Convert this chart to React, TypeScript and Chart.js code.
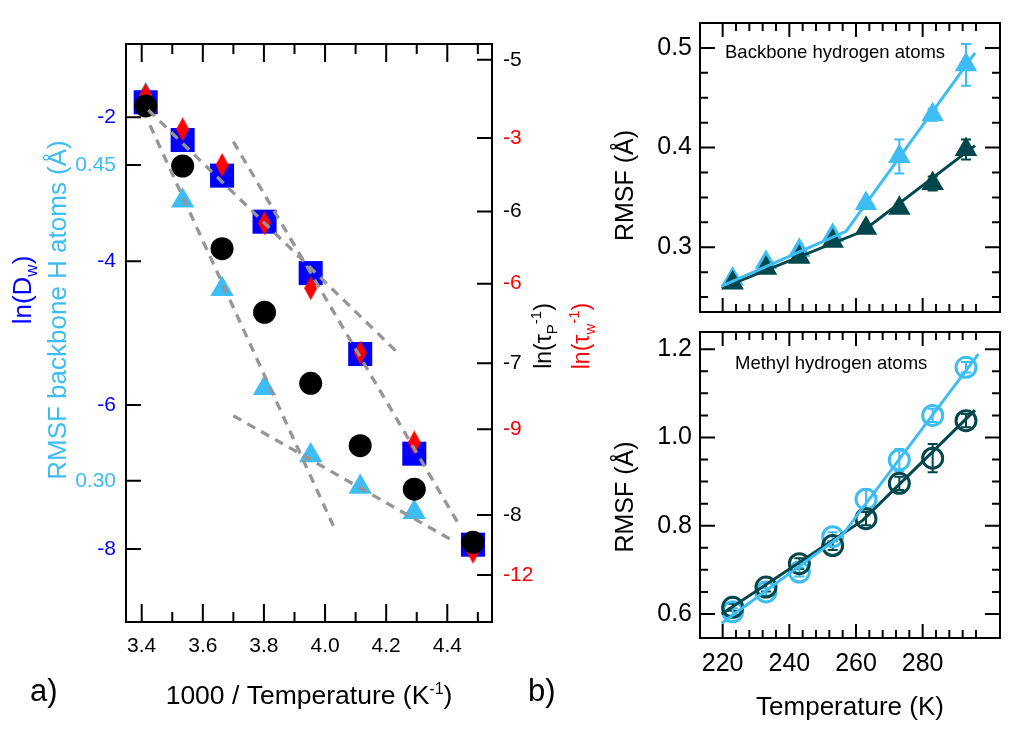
import React, { useEffect, useRef } from 'react';
import { Chart, registerables } from 'chart.js';

Chart.register(...registerables);

const FONT = "'Liberation Sans', Arial, Helvetica, sans-serif";
const BLUE = '#0000ff';
const LIGHT = '#3dbdf4';
const RED = '#ff0000';
const DARK = '#00474d';
const GRAY = '#969696';

// ---------------- Panel a : Arrhenius-type plot ----------------
const INV_T = [4.484, 4.292, 4.115, 3.953, 3.802, 3.663, 3.534, 3.413]; // 1000/T
const LN_DW = [-7.94, -6.675, -5.29, -4.165, -3.45, -2.81, -2.315, -1.79];
const LN_TAUW_INV = [-11.52, -9.27, -7.42, -6.094, -4.756, -3.556, -2.82, -2.115];
const LN_TAUP_INV = [-8.18, -7.83, -7.543, -7.132, -6.664, -6.245, -5.7, -5.304];
const RMSF_BB_A = [0.268, 0.285, 0.297, 0.312, 0.344, 0.391, 0.433, 0.483];

// dashed guide lines (data units)
const FIT_DW = [{ x: 3.4216, y: -1.897 }, { x: 4.2397, y: -5.28 }];
const FIT_RMSF_HOT = [{ x: 3.427, y: 0.4689 }, { x: 4.027, y: 0.2786 }];
const FIT_TAUW_COLD = [{ x: 3.7, y: -3.076 }, { x: 4.442, y: -11.003 }];
const FIT_RMSF_COLD = [{ x: 3.7, y: 0.3309 }, { x: 4.4197, y: 0.2714 }];

const X_TICKS_A = [3.4, 3.6, 3.8, 4.0, 4.2, 4.4];
const X_MINOR_A = [3.5, 3.7, 3.9, 4.1, 4.3, 4.5];
const DW_TICKS = [-8, -6, -4, -2];
const RMSF_A_TICKS = [0.3, 0.45];
const TAUP_TICKS = [-8, -7, -6, -5];
const TAUW_TICKS = [-12, -9, -6, -3];

const X_A_RANGE = [3.3486, 4.5463];
const DW_RANGE = [-9.015, -0.98];
const RMSF_A_RANGE = [0.2329, 0.5075];
const TAUP_RANGE = [-8.705, -4.896];
const TAUW_RANGE = [-12.968, -1.064];

// ---------------- Panel b : RMSF vs temperature ----------------
const TEMPS = [223, 233, 243, 253, 263, 273, 283, 293];
const BB_LIGHT = [0.268, 0.285, 0.297, 0.312, 0.344, 0.391, 0.433, 0.483];
const BB_LIGHT_ERR = [0.002, 0.003, 0.003, 0.003, 0.004, 0.017, 0.006, 0.021];
const BB_DARK = [0.264, 0.279, 0.29, 0.306, 0.319, 0.339, 0.364, 0.398];
const BB_DARK_ERR = [0.002, 0.002, 0.002, 0.003, 0.003, 0.004, 0.007, 0.01];
const ME_LIGHT = [0.605, 0.65, 0.695, 0.775, 0.86, 0.949, 1.05, 1.159];
const ME_LIGHT_ERR = [0.008, 0.008, 0.01, 0.01, 0.022, 0.025, 0.015, 0.012];
const ME_DARK = [0.615, 0.661, 0.714, 0.755, 0.816, 0.896, 0.953, 1.038];
const ME_DARK_ERR = [0.008, 0.01, 0.012, 0.01, 0.015, 0.015, 0.032, 0.015];

const FIT_BB_LIGHT = [{ x: 219.7, y: 0.261 }, { x: 257, y: 0.316 }, { x: 295.7, y: 0.495 }];
const FIT_BB_DARK = [{ x: 219.7, y: 0.259 }, { x: 262, y: 0.316 }, { x: 295.7, y: 0.402 }];
const FIT_ME_LIGHT = [{ x: 219.7, y: 0.579 }, { x: 256, y: 0.78 }, { x: 296.7, y: 1.189 }];
const FIT_ME_DARK = [{ x: 219.7, y: 0.6 }, { x: 262, y: 0.812 }, { x: 295.7, y: 1.062 }];

const T_TICKS = [220, 240, 260, 280];
const T_MINOR = [224, 228, 232, 236, 244, 248, 252, 256, 264, 268, 272, 276, 284, 288, 292, 296];
const T_RANGE = [213.2, 303.2];
const BB_TICKS = [0.3, 0.4, 0.5];
const BB_MINOR = [0.25, 0.275, 0.325, 0.35, 0.375, 0.425, 0.45, 0.475];
const BB_RANGE = [0.235, 0.525];
const ME_TICKS = [0.6, 0.8, 1.0, 1.2];
const ME_MINOR = [0.65, 0.7, 0.75, 0.85, 0.9, 0.95, 1.05, 1.1, 1.15];
const ME_RANGE = [0.5455, 1.239];

type Part = { t: string; size: number; dy?: number; color?: string };

function drawRich(ctx: any, parts: Part[], x: number, y: number, rot: number, align: string, color: string) {
  ctx.save();
  ctx.translate(x, y);
  ctx.rotate(rot);
  ctx.textBaseline = 'alphabetic';
  ctx.textAlign = 'left';
  let total = 0;
  const widths = parts.map((p) => {
    ctx.font = `${p.size}px ${FONT}`;
    const w = ctx.measureText(p.t).width;
    total += w;
    return w;
  });
  let cx = align === 'center' ? -total / 2 : 0;
  parts.forEach((p, i) => {
    ctx.font = `${p.size}px ${FONT}`;
    ctx.fillStyle = p.color || color;
    ctx.fillText(p.t, cx, p.dy || 0);
    cx += widths[i];
  });
  ctx.restore();
}

function makeDiamond(w: number, h: number, color: string) {
  const c = document.createElement('canvas');
  c.width = w;
  c.height = h;
  const g = c.getContext('2d')!;
  g.fillStyle = color;
  g.beginPath();
  g.moveTo(w / 2, 0);
  g.lineTo(w, h / 2);
  g.lineTo(w / 2, h);
  g.lineTo(0, h / 2);
  g.closePath();
  g.fill();
  return c;
}

const pts = (xs: number[], ys: number[]) => xs.map((x, i) => ({ x, y: ys[i] }));
const mapRange = (v: number, from: number[], to: number[]) =>
  to[0] + ((v - from[0]) / (from[1] - from[0])) * (to[1] - to[0]);

const hiddenGrid = { display: false, drawTicks: false };

const panelAPlugin = {
  id: 'panelA',
  afterDraw(chart: any) {
    const { ctx, chartArea: a, scales } = chart;
    const { x, yD, yR, yP, yW } = scales;
    ctx.save();
    ctx.strokeStyle = '#000';
    ctx.lineWidth = 2;
    ctx.strokeRect(a.left, a.top, a.right - a.left, a.bottom - a.top);
    ctx.beginPath();
    const vt = (px: number, len: number) => {
      ctx.moveTo(px, a.bottom);
      ctx.lineTo(px, a.bottom - len);
      ctx.moveTo(px, a.top);
      ctx.lineTo(px, a.top + len);
    };
    X_TICKS_A.forEach((v) => vt(x.getPixelForValue(v), 18));
    X_MINOR_A.forEach((v) => vt(x.getPixelForValue(v), 10));
    const lt = (py: number) => {
      ctx.moveTo(a.left, py);
      ctx.lineTo(a.left + 15, py);
    };
    const rt = (py: number) => {
      ctx.moveTo(a.right, py);
      ctx.lineTo(a.right - 15, py);
    };
    DW_TICKS.forEach((v) => lt(yD.getPixelForValue(v)));
    RMSF_A_TICKS.forEach((v) => lt(yR.getPixelForValue(v)));
    TAUP_TICKS.forEach((v) => rt(yP.getPixelForValue(v)));
    TAUW_TICKS.forEach((v) => rt(yW.getPixelForValue(v)));
    ctx.stroke();
    ctx.restore();

    const R = -Math.PI / 2;
    drawRich(ctx, [{ t: 'ln(D', size: 26 }, { t: 'w', size: 17, dy: 6 }, { t: ')', size: 26 }], 31, 290, R, 'center', BLUE);
    drawRich(ctx, [{ t: 'RMSF backbone H atoms (Å)', size: 26 }], 66, 310, R, 'center', LIGHT);
    drawRich(
      ctx,
      [{ t: 'ln(τ', size: 23 }, { t: 'P', size: 15, dy: 6 }, { t: '-1', size: 15, dy: -10 }, { t: ')', size: 23 }],
      551,
      336,
      R,
      'center',
      '#000'
    );
    drawRich(
      ctx,
      [{ t: 'ln(τ', size: 23 }, { t: 'w', size: 15, dy: 6 }, { t: '-1', size: 15, dy: -10 }, { t: ')', size: 23 }],
      589,
      336,
      R,
      'center',
      RED
    );
    drawRich(
      ctx,
      [{ t: '1000 / Temperature (K', size: 26.5 }, { t: '-1', size: 16, dy: -10 }, { t: ')', size: 26.5 }],
      (a.left + a.right) / 2,
      704,
      0,
      'center',
      '#000'
    );
    drawRich(ctx, [{ t: 'a)', size: 31 }], 30, 701, 0, 'left', '#000');
    drawRich(ctx, [{ t: 'b)', size: 31 }], 528, 701, 0, 'left', '#000');
  },
};

function makeRightPlugin(cfg: any) {
  return {
    id: 'panelB',
    beforeDatasetsDraw(chart: any) {
      const { ctx, scales } = chart;
      const { x, y } = scales;
      chart.data.datasets.forEach((ds: any) => {
        if (!ds.errorBars) return;
        ctx.save();
        ctx.strokeStyle = ds.borderColor;
        ctx.lineWidth = 2;
        ctx.beginPath();
        ds.data.forEach((p: any, j: number) => {
          const e = ds.errorBars[j];
          const px = x.getPixelForValue(p.x);
          const y1 = y.getPixelForValue(p.y - e);
          const y2 = y.getPixelForValue(p.y + e);
          ctx.moveTo(px, y1);
          ctx.lineTo(px, y2);
          ctx.moveTo(px - 5, y1);
          ctx.lineTo(px + 5, y1);
          ctx.moveTo(px - 5, y2);
          ctx.lineTo(px + 5, y2);
        });
        ctx.stroke();
        ctx.restore();
      });
    },
    afterDraw(chart: any) {
      const { ctx, chartArea: a, scales } = chart;
      const { x, y } = scales;
      ctx.save();
      ctx.strokeStyle = '#000';
      ctx.lineWidth = 2;
      ctx.strokeRect(a.left, a.top, a.right - a.left, a.bottom - a.top);
      ctx.beginPath();
      const vt = (px: number, len: number) => {
        ctx.moveTo(px, a.bottom);
        ctx.lineTo(px, a.bottom - len);
        ctx.moveTo(px, a.top);
        ctx.lineTo(px, a.top + len);
      };
      const ht = (py: number, len: number) => {
        ctx.moveTo(a.left, py);
        ctx.lineTo(a.left + len, py);
        ctx.moveTo(a.right, py);
        ctx.lineTo(a.right - len, py);
      };
      T_TICKS.forEach((v) => vt(x.getPixelForValue(v), 14));
      T_MINOR.forEach((v) => vt(x.getPixelForValue(v), 8));
      cfg.yMajor.forEach((v: number) => ht(y.getPixelForValue(v), 15));
      cfg.yMinor.forEach((v: number) => ht(y.getPixelForValue(v), 8));
      ctx.stroke();
      ctx.restore();

      drawRich(ctx, [{ t: cfg.label, size: 18.5 }], a.left + cfg.labelDx, a.top + cfg.labelDy, 0, 'left', '#000');
      drawRich(ctx, [{ t: 'RMSF (Å)', size: 25 }], 33, (a.top + a.bottom) / 2 + cfg.titleDy, -Math.PI / 2, 'center', '#000');
    },
  };
}

function rightScales(range: number[], ticks: number[], showX: boolean) {
  return {
    x: {
      type: 'linear',
      display: showX,
      min: T_RANGE[0],
      max: T_RANGE[1],
      afterBuildTicks: (s: any) => {
        s.ticks = T_TICKS.map((v) => ({ value: v }));
      },
      afterFit: (s: any) => {
        if (showX) s.height = 93;
      },
      grid: hiddenGrid,
      border: { display: false },
      ticks: {
        font: { family: FONT, size: 25 },
        color: '#000',
        padding: 11,
        autoSkip: false,
        maxRotation: 0,
        callback: (v: number) => String(v),
      },
      title: {
        display: showX,
        text: 'Temperature (K)',
        color: '#000',
        font: { family: FONT, size: 26 },
        padding: { top: 0, bottom: 8 },
      },
    },
    y: {
      type: 'linear',
      position: 'left',
      min: range[0],
      max: range[1],
      afterBuildTicks: (s: any) => {
        s.ticks = ticks.map((v) => ({ value: v }));
      },
      afterFit: (s: any) => {
        s.width = 100;
      },
      grid: hiddenGrid,
      border: { display: false },
      ticks: {
        font: { family: FONT, size: 25 },
        color: '#000',
        padding: 8,
        autoSkip: false,
        callback: (v: number) => v.toFixed(1),
      },
    },
  };
}

function rightDatasets(light: number[], lightErr: number[], dark: number[], darkErr: number[], fitL: any[], fitD: any[], marker: string) {
  const filled = marker === 'triangle';
  const mk = (vals: number[], err: number[], color: string, order: number, label: string) => ({
    label,
    data: pts(TEMPS, vals),
    errorBars: err,
    pointStyle: marker,
    pointRadius: filled ? 13 : 10,
    backgroundColor: filled ? color : 'rgba(0,0,0,0)',
    borderColor: color,
    borderWidth: filled ? 0 : 3,
    order,
  });
  return [
    { label: 'fit light', data: fitL, showLine: true, borderColor: LIGHT, borderWidth: 3, pointRadius: 0, order: 0 },
    { label: 'fit dark', data: fitD, showLine: true, borderColor: DARK, borderWidth: 3, pointRadius: 0, order: 1 },
    mk(dark, darkErr, DARK, 2, 'dark'),
    mk(light, lightErr, LIGHT, 3, 'light'),
  ];
}

const commonOpts = {
  animation: false,
  responsive: false,
  devicePixelRatio: 1,
  plugins: { legend: { display: false }, tooltip: { enabled: false } },
};

export default function App() {
  const aRef = useRef<HTMLCanvasElement>(null);
  const tRef = useRef<HTMLCanvasElement>(null);
  const bRef = useRef<HTMLCanvasElement>(null);

  useEffect(() => {
    const charts: any[] = [];
    const diamond = makeDiamond(13, 24, RED);
    const dash = { showLine: true, borderColor: GRAY, borderWidth: 3.3, borderDash: [9, 7], pointRadius: 0, order: 0 };

    charts.push(
      new Chart(aRef.current as any, {
        type: 'scatter',
        data: {
          datasets: [
            { label: 'fit Dw', data: FIT_DW, yAxisID: 'yD', ...dash },
            { label: 'fit RMSF hot', data: FIT_RMSF_HOT, yAxisID: 'yR', ...dash },
            { label: 'fit tauw', data: FIT_TAUW_COLD, yAxisID: 'yW', ...dash },
            { label: 'fit RMSF cold', data: FIT_RMSF_COLD, yAxisID: 'yR', ...dash },
            { label: 'ln(tauP-1)', data: pts(INV_T, LN_TAUP_INV), yAxisID: 'yP', pointStyle: 'circle', pointRadius: 11.5, backgroundColor: '#000', borderWidth: 0, order: 1 },
            { label: 'ln(tauw-1)', data: pts(INV_T, LN_TAUW_INV), yAxisID: 'yW', pointStyle: diamond, pointRadius: 12, backgroundColor: RED, borderWidth: 0, order: 2 },
            { label: 'ln(Dw)', data: pts(INV_T, LN_DW), yAxisID: 'yD', pointStyle: 'rect', pointRadius: 17, backgroundColor: BLUE, borderWidth: 0, order: 3 },
            { label: 'RMSF', data: pts(INV_T, RMSF_BB_A), yAxisID: 'yR', pointStyle: 'triangle', pointRadius: 13.5, backgroundColor: LIGHT, borderWidth: 0, order: 4 },
          ],
        },
        options: {
          ...commonOpts,
          layout: { padding: { top: 44, left: 0, right: 0, bottom: 0 } },
          scales: {
            x: {
              type: 'linear',
              min: X_A_RANGE[0],
              max: X_A_RANGE[1],
              afterBuildTicks: (s: any) => {
                s.ticks = X_TICKS_A.map((v) => ({ value: v }));
              },
              afterFit: (s: any) => {
                s.height = 109;
              },
              grid: hiddenGrid,
              border: { display: false },
              ticks: {
                font: { family: FONT, size: 21 },
                color: '#000',
                padding: 12,
                autoSkip: false,
                maxRotation: 0,
                callback: (v: number) => v.toFixed(1),
              },
            },
            yD: {
              type: 'linear',
              position: 'left',
              min: DW_RANGE[0],
              max: DW_RANGE[1],
              afterBuildTicks: (s: any) => {
                s.ticks = [
                  ...DW_TICKS.map((v) => ({ value: v })),
                  ...RMSF_A_TICKS.map((r) => ({ value: mapRange(r, RMSF_A_RANGE, DW_RANGE), alt: r.toFixed(2) })),
                ];
              },
              afterFit: (s: any) => {
                s.width = 126;
              },
              grid: hiddenGrid,
              border: { display: false },
              ticks: {
                font: { family: FONT, size: 21 },
                padding: 10,
                autoSkip: false,
                color: (c: any) => (c.tick && c.tick.alt ? LIGHT : BLUE),
                callback: (v: number, i: number, t: any[]) => (t[i] && t[i].alt ? t[i].alt : String(v)),
              },
            },
            yR: { type: 'linear', display: false, min: RMSF_A_RANGE[0], max: RMSF_A_RANGE[1] },
            yP: {
              type: 'linear',
              position: 'right',
              min: TAUP_RANGE[0],
              max: TAUP_RANGE[1],
              afterBuildTicks: (s: any) => {
                s.ticks = [
                  ...TAUP_TICKS.map((v) => ({ value: v })),
                  ...TAUW_TICKS.map((w) => ({ value: mapRange(w, TAUW_RANGE, TAUP_RANGE), alt: String(w) })),
                ];
              },
              afterFit: (s: any) => {
                s.width = 108;
              },
              grid: hiddenGrid,
              border: { display: false },
              ticks: {
                font: { family: FONT, size: 21 },
                padding: 11,
                autoSkip: false,
                color: (c: any) => (c.tick && c.tick.alt ? RED : '#000'),
                callback: (v: number, i: number, t: any[]) => (t[i] && t[i].alt ? t[i].alt : String(v)),
              },
            },
            yW: { type: 'linear', display: false, min: TAUW_RANGE[0], max: TAUW_RANGE[1] },
          },
        } as any,
        plugins: [panelAPlugin as any],
      } as any)
    );

    charts.push(
      new Chart(tRef.current as any, {
        type: 'scatter',
        data: { datasets: rightDatasets(BB_LIGHT, BB_LIGHT_ERR, BB_DARK, BB_DARK_ERR, FIT_BB_LIGHT, FIT_BB_DARK, 'triangle') as any },
        options: {
          ...commonOpts,
          layout: { padding: { top: 20, right: 24, bottom: 6, left: 0 } },
          scales: rightScales(BB_RANGE, BB_TICKS, false),
        } as any,
        plugins: [makeRightPlugin({ yMajor: BB_TICKS, yMinor: BB_MINOR, label: 'Backbone hydrogen atoms', labelDx: 25, labelDy: 35, titleDy: 18 }) as any],
      } as any)
    );

    charts.push(
      new Chart(bRef.current as any, {
        type: 'scatter',
        data: { datasets: rightDatasets(ME_LIGHT, ME_LIGHT_ERR, ME_DARK, ME_DARK_ERR, FIT_ME_LIGHT, FIT_ME_DARK, 'circle') as any },
        options: {
          ...commonOpts,
          layout: { padding: { top: 20, right: 24, bottom: 0, left: 0 } },
          scales: rightScales(ME_RANGE, ME_TICKS, true),
        } as any,
        plugins: [makeRightPlugin({ yMajor: ME_TICKS, yMinor: ME_MINOR, label: 'Methyl hydrogen atoms', labelDx: 35, labelDy: 37, titleDy: 12 }) as any],
      } as any)
    );

    return () => charts.forEach((c) => c.destroy());
  }, []);

  return (
    <div style={{ position: 'fixed', left: 0, top: 0, width: 1024, height: 731, background: '#fff', overflow: 'hidden' }}>
      <canvas ref={aRef} width={600} height={731} style={{ position: 'absolute', left: 0, top: 0 }} />
      <canvas ref={tRef} width={424} height={335} style={{ position: 'absolute', left: 600, top: 0 }} />
      <canvas ref={bRef} width={424} height={422} style={{ position: 'absolute', left: 600, top: 309 }} />
    </div>
  );
}
